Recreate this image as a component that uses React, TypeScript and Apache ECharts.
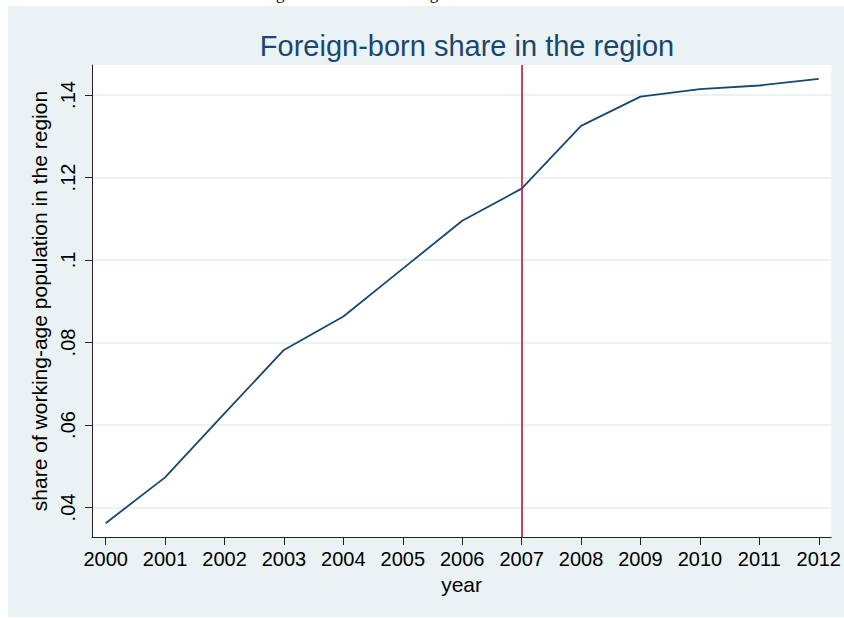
import React, { useEffect, useRef } from "react";
import * as echarts from "echarts";

const years = [2000, 2001, 2002, 2003, 2004, 2005, 2006, 2007, 2008, 2009, 2010, 2011, 2012];
const share = [0.0362, 0.0473, 0.0628, 0.0782, 0.0863, 0.0979, 0.1095, 0.1173, 0.1325, 0.1396, 0.1414, 0.1423, 0.1439];
const yTicks = [0.04, 0.06, 0.08, 0.1, 0.12, 0.14];
const xTicks = years;
const markYear = 2007;
const titleText = "Foreign-born share in the region";
const yTitle = "share of working-age population in the region";
const xTitle = "year";

export default function App() {
  const ref = useRef<HTMLDivElement>(null);
  useEffect(() => {
    if (!ref.current) return;
    const chart = echarts.init(ref.current, null, { renderer: "svg" });
    const font = "'Liberation Sans', Arial, Helvetica, sans-serif";
    chart.setOption({
      animation: false,
      backgroundColor: "#ffffff",
      graphic: [
        {
          type: "rect",
          z: -10,
          silent: true,
          shape: { x: 8, y: 6, width: 836, height: 611 },
          style: { fill: "#eaf2f3" },
        },
        {
          type: "text",
          silent: true,
          x: 240,
          y: -15,
          style: {
            text: titleText,
            font: "17px 'Liberation Serif', 'DejaVu Serif', serif",
            fill: "#000",
          },
        },
      ],
      title: {
        text: titleText,
        left: 462,
        textAlign: "center",
        top: 26,
        textStyle: {
          color: "#1a476f",
          fontFamily: font,
          fontSize: 29,
          fontWeight: "normal",
        },
      },
      grid: {
        left: 92,
        top: 65,
        right: 12,
        bottom: 81,
        show: true,
        backgroundColor: "#ffffff",
        borderWidth: 0,
      },
      xAxis: {
        type: "value",
        min: 1999.77,
        max: 2012.21,
        name: xTitle,
        nameLocation: "middle",
        nameGap: 34,
        nameTextStyle: { color: "#000", fontFamily: font, fontSize: 21 },
        axisLine: { show: true, onZero: false, lineStyle: { color: "#222", width: 1 } },
        axisTick: { show: true, length: 8, customValues: xTicks, lineStyle: { color: "#222" } },
        axisLabel: {
          customValues: xTicks,
          margin: 12,
          color: "#000",
          fontFamily: font,
          fontSize: 20,
          formatter: (v: number) => String(Math.round(v)),
        },
        splitLine: { show: false },
      },
      yAxis: {
        type: "value",
        min: 0.03285,
        max: 0.14727,
        name: yTitle,
        nameLocation: "middle",
        nameRotate: 90,
        nameGap: 37,
        nameTextStyle: { color: "#000", fontFamily: font, fontSize: 21 },
        axisLine: { show: true, onZero: false, lineStyle: { color: "#222", width: 1 } },
        axisTick: { show: true, length: 7, customValues: yTicks, lineStyle: { color: "#222" } },
        axisLabel: {
          customValues: yTicks,
          rotate: 90,
          margin: 14,
          color: "#000",
          fontFamily: font,
          fontSize: 20,
          formatter: (v: number) => String(+v.toFixed(2)).replace(/^0/, ""),
        },
        splitLine: { show: true, lineStyle: { color: "#eaf2f3", width: 2 } },
      },
      series: [
        {
          type: "line",
          data: years.map((y, i) => [y, share[i]]),
          symbol: "none",
          lineStyle: { color: "#1a476f", width: 1.8 },
          markLine: {
            silent: true,
            symbol: "none",
            label: { show: false },
            lineStyle: { color: "#c8103c", width: 1.6, type: "solid" },
            data: [{ xAxis: markYear }],
          },
        },
      ],
    });
    return () => chart.dispose();
  }, []);
  return (
    <div
      ref={ref}
      style={{ position: "absolute", left: 0, top: 0, width: 844, height: 618 }}
    />
  );
}
